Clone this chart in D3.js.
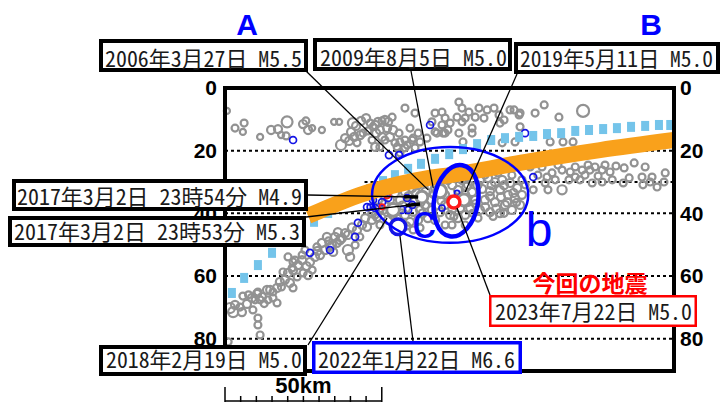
<!DOCTYPE html>
<html><head><meta charset="utf-8">
<script src="https://cdn.jsdelivr.net/npm/d3@7"></script>
<style>html,body{margin:0;padding:0;background:#fff;}svg{display:block;}</style>
</head><body>
<svg id="c" width="724" height="403"></svg>
<script>
// ---------------- DATA ----------------
const depthTicks = [0, 20, 40, 60, 80];
const gridDepths = [20, 40, 60, 80];
const scaleBarKm = 50;
// [distance km, depth km, magnitude]
const grayQuakes = [
 [0.6,7.3,1.4],[3.2,12.8,1.8],[6.1,11.2,1.8],[5.7,14.0,1.4],[11.2,15.6,1.4],[14.7,13.4,2.3],[16.9,13.1,2.3],[17.9,15.0,1.4],[19.8,10.8,3.6],[19.5,15.3,1.8],[24.9,11.5,2.3],[25.8,10.5,1.8],[26.5,13.4,2.3],[27.8,12.8,1.4],[30.9,13.4,1.4],[34.8,10.8,1.4],[36.4,10.8,1.4],[40.8,11.2,3.2],[40.2,14.0,2.3],[41.2,15.6,2.3],[37.0,18.2,3.2],[39.6,16.9,2.3],[42.1,17.5,1.8],[44.0,14.4,1.8],[46.3,11.2,1.8],[48.8,10.8,2.3],[51.0,10.2,2.3],[51.7,12.8,2.3],[50.1,15.6,2.3],[52.6,15.6,2.3],[55.8,17.2,1.8],[57.4,16.6,1.8],[60.0,16.0,1.8],[62.2,17.2,1.8],[67.0,8.0,1.8],[69.2,7.7,1.8],[70.2,9.6,1.8],[59.0,12.8,1.8],[61.6,14.4,1.8],[64.4,16.0,1.8],[67.6,14.4,1.8],[69.5,14.4,1.8],[71.1,13.4,1.8],[49.4,18.8,1.8],[54.9,18.8,1.8],[55.8,20.7,1.8],[58.1,18.2,1.8],[57.4,6.4,1.8],[60.6,8.0,1.8],[53.3,9.3,1.8],[50.1,10.5,1.8],[47.2,12.4,1.8],[48.2,14.4,2.3],[46.9,16.6,1.8],[45.6,13.7,1.8],[74.6,4.5,1.8],[75.6,6.4,1.8],[77.8,7.7,1.8],[81.0,6.4,1.8],[83.6,7.0,1.8],[85.8,6.4,1.8],[87.4,8.6,1.8],[74.0,9.3,1.8],[76.6,9.6,1.8],[79.8,9.3,1.8],[82.6,9.6,1.8],[89.0,10.2,1.8],[92.2,7.0,1.8],[93.8,8.6,1.8],[98.9,8.0,1.8],[101.8,5.4,1.8],[106.5,9.3,1.8],[114.2,7.3,4.1],[66.0,10.8,1.8],[69.2,11.8,1.8],[71.8,11.2,1.8],[67.0,14.0,1.8],[70.2,14.4,1.8],[78.8,12.8,1.8],[74.6,14.4,1.8],[55.5,14.4,1.8],[59.7,16.6,1.8],[54.2,17.5,1.8],[51.0,16.6,1.8],[47.9,18.8,2.3],[57.4,19.1,1.8],[60.6,19.1,1.8],[75.6,10.8,1.8],[75.9,17.2,1.8],[78.8,14.4,1.8],[87.7,11.2,1.8],[90.9,7.0,1.8],[94.1,8.0,1.8],[94.1,12.4,1.8],[103.7,17.2,1.8],[107.8,17.2,1.8],[111.0,17.2,1.8],[88.4,17.5,1.8],[92.5,17.2,1.8],[41.8,12.1,2.3],[43.1,15.0,2.3],[38.3,16.0,2.3],[43.4,10.5,2.3],[45.0,9.6,2.3],[47.9,11.8,2.3],[52.0,10.8,2.3],[53.6,13.4,2.3],[49.4,13.4,2.3],
 // deeper cluster east
 [101.1,25.2,1.8],[104.3,27.1,1.8],[107.5,26.2,1.8],[109.7,29.3,1.8],[111.7,25.2,1.8],[113.9,26.2,1.8],[118.0,25.2,1.8],[120.3,26.2,1.8],[127.3,25.5,1.8],[130.5,23.9,1.8],[134.0,25.2,1.8],[136.2,28.4,1.8],[140.4,27.1,1.8],[140.0,30.0,1.8],[133.0,28.4,1.8],[128.9,28.7,1.8],[123.5,29.3,1.8],[120.3,30.0,1.8],[117.1,30.3,1.8],[127.0,30.3,1.8],[135.6,30.0,1.8],[133.3,30.9,1.8],[137.8,31.6,1.8],[102.7,28.4,1.8],[97.3,25.2,1.8],[98.3,32.5,1.8],[103.0,32.5,1.8],[107.5,32.5,2.8],[105.3,29.3,1.8],[111.7,28.4,1.8],[114.8,27.8,1.8],[116.4,26.2,1.8],[122.8,26.8,1.8],[124.7,24.9,1.8],[99.8,27.8,1.8],[102.1,30.3,1.8],[106.2,24.6,1.8],[110.1,26.8,1.8],[113.2,29.3,1.8],[119.0,28.1,1.8],[115.8,24.6,1.8],[121.2,24.6,1.8],
 // slab
 [1.6,70.2,3.2],[3.2,69.2,2.3],[4.8,69.9,1.8],[7.0,68.9,2.3],[8.6,67.0,2.3],[10.2,65.7,2.3],[9.6,67.6,1.8],[11.2,67.6,1.8],[10.5,65.1,1.8],[11.8,66.7,2.3],[13.4,64.4,2.3],[13.7,67.6,1.8],[15.3,65.1,1.8],[16.6,63.8,2.3],[16.6,68.6,1.8],[15.3,67.0,1.8],[17.5,61.9,2.3],[19.1,61.2,2.3],[20.7,62.2,2.3],[18.5,58.7,1.8],[20.1,59.0,2.3],[21.7,58.1,2.3],[21.4,57.4,1.8],[23.3,56.5,2.3],[24.6,54.9,2.3],[21.7,55.5,1.8],[24.9,59.0,1.8],[26.5,59.7,2.3],[23.0,60.3,1.8],[21.7,63.8,1.8],[20.1,53.9,1.8],[22.3,54.9,1.8],[24.6,53.3,1.8],[27.8,58.1,1.8],[28.7,53.9,2.3],[30.3,53.3,2.3],[29.3,50.7,1.8],[30.9,49.4,2.3],[31.9,51.7,2.3],[33.5,50.7,2.3],[34.1,50.1,2.3],[34.5,52.3,2.3],[35.1,47.5,2.3],[35.7,49.4,2.3],[36.7,48.5,2.3],[37.3,47.9,2.3],[38.3,46.3,2.3],[39.2,46.9,2.3],[39.2,51.7,3.2],[39.9,53.9,2.3],[42.1,45.3,2.3],[43.7,43.7,2.3],[45.3,44.3,2.3],[44.7,41.5,2.3],[46.9,42.1,2.3],[48.5,41.2,2.3],[49.4,38.3,2.3],[51.7,39.6,2.3],[53.6,38.0,2.3],[10.5,73.4,1.8],[10.5,75.6,1.8],[11.2,78.8,1.8],[1.0,81.0,1.8],[2.6,71.5,3.2],[14.4,64.4,2.3],[32.5,47.5,2.3],[41.5,50.1,1.8],[27.1,55.5,2.3],[25.5,51.7,1.8],[5.7,66.4,1.8],[8.9,70.8,1.8],[5.4,71.5,2.3],
 [18.0,63.5,1.8],[26.0,56.8,2.3],[29.5,52.0,2.3],[33.0,48.8,1.8],[36.0,46.0,2.3],[40.5,44.5,2.3],[43.0,47.5,1.8],[47.0,40.0,2.3],[12.5,68.8,1.8],[7.5,66.0,1.8],
 // central cluster
 [48.8,35.7,2.3],[50.4,38.9,2.3],[52.6,35.7,2.3],[54.2,33.5,2.3],[55.8,35.7,2.3],[57.4,33.2,2.3],[59.7,31.9,2.3],[61.6,30.9,2.3],[63.8,30.3,2.3],[60.6,35.7,2.3],[62.2,38.9,2.3],[63.8,37.3,2.3],[65.4,35.7,2.3],[66.0,38.9,2.3],[64.7,41.5,2.3],[61.6,42.1,2.3],[59.0,42.7,2.3],[57.4,40.5,2.3],[52.0,42.1,2.3],[49.4,43.7,1.8],[47.9,40.5,1.8],[60.0,45.3,1.8],[62.2,44.6,1.8],[67.0,42.1,2.3],[68.6,39.6,2.3],[70.2,37.3,2.3],[70.2,34.1,2.3],[68.6,30.0,2.3],[71.1,29.3,2.3],[73.4,28.7,2.3],[75.6,29.3,2.3],[77.5,30.9,2.3],[78.8,33.2,2.3],[79.8,35.7,2.3],[78.2,38.3,2.3],[76.6,40.5,2.3],[74.3,41.5,2.3],[71.8,40.5,2.3],[70.2,43.7,1.8],[81.3,29.3,2.3],[83.9,28.7,2.3],[86.1,30.0,2.3],[88.4,29.3,2.3],[90.9,30.3,2.3],[93.2,31.9,2.3],[82.0,32.2,2.3],[84.5,32.9,2.3],[87.7,32.5,2.3],[90.3,34.1,2.3],[92.5,35.1,2.3],[94.1,37.3,2.3],[82.9,35.7,2.3],[86.1,36.4,2.3],[89.3,37.3,2.3],[91.5,38.9,2.3],[81.3,38.9,2.3],[84.5,39.6,2.3],[87.7,39.9,2.3],[80.7,41.5,1.8],[82.9,27.8,1.8],[87.0,27.1,1.8],[91.5,27.8,1.8],[94.7,29.3,1.8],[94.7,34.1,2.3],[95.7,30.9,1.8],[67.0,31.9,2.3],[74.3,32.5,2.3],[76.6,34.1,2.3],[71.8,35.7,2.3],[75.0,38.3,2.3],[72.4,43.7,1.8],[76.6,43.7,1.8],
 [51,37,2.3],[53.5,40.5,2.3],[56.5,37.5,2.3],[58.5,34.5,2.3],[61,33.5,2.3],[62.5,36.5,1.8],[64,33,2.3],[66.5,34,1.8],[60,39.5,2.3],[63,40,2.3],[58,44,1.8],[55,41.5,1.8],[69,36,2.3],[72.5,31,2.3],[72.5,38.5,2.3],[77,31.5,2.3],[80.5,31,2.3],[80,37,2.3],[77.5,36.5,1.8],[73,41,1.8],[85,31,2.3],[89,31,2.3],[92,33.5,2.3],[88,34.8,2.3],[84.5,34.5,2.3],[83,38,2.3],[86.5,38.5,2.3],[90,36.5,2.3],[93,36.5,1.8],[89,40,1.8],[79,40,1.8],[85.5,41,1.8]
];
const blueQuakes = [
 [21.7,16.6,1.8],[65.4,11.8,1.8],[52.3,21.4,1.8],[55.5,21.4,1.8],[95.7,14.4,1.8],[98.3,28.4,1.8],[27.1,52.6,1.8],[41.5,47.5,1.8],[45.3,38.0,1.8],[47.9,38.3,1.8],[47.2,35.7,1.8],[51.0,33.5,1.8],[52.0,35.1,1.8],[50.1,36.4,1.8],[58.1,35.1,1.8],[59.7,37.3,1.8],[58.4,38.9,1.8],[56.5,38.9,1.8],[46.3,38.0,1.4],[71.8,28.7,1.4],[74.0,33.5,1.0],[69.2,38.3,1.4],[33.5,51.7,1.8],[42.4,43.0,1.8]
];
const redQuakes = [[51.7,34.1,1.8],[50.1,37.9,1.0]];
// major events: [km, depth, M, kind]
const majorQuakes = [
 [53.6,38.9,5.3,"gray"],[62.8,34.8,4.9,"gray"],[68.6,32.9,5.5,"gray"],[76.2,35.7,5.0,"gray"],
 [55.2,44.3,6.6,"blue"],[73.0,36.4,5.0,"red"]
];
// plate boundary model (orange) and blue dashed model: [km, depth]
const orangeLine = [[26.5,40.8],[30.3,39.2],[43.1,34.1],[55.8,30.6],[65.1,28.7],[71.8,27.8],[97.3,23.3],[119.6,19.8],[143.2,16.6]];
const blueLine = [[2.2,65.4],[6.1,60.6],[10.5,56.5],[15.0,52.6],[19.5,49.1],[23.9,45.6],[28.4,42.7],[32.9,39.9],[37.3,37.0],[41.8,34.5],[46.3,32.2],[50.4,29.7],[54.2,27.8],[58.4,25.8],[62.5,24.2],[67.0,22.6],[71.5,21.1],[75.9,19.5],[80.4,17.9],[84.9,16.6],[89.3,16.0],[93.8,15.6],[98.3,15.3],[102.7,14.7],[107.2,14.4],[111.7,13.7],[116.1,13.4],[120.6,13.1],[125.0,12.8],[129.5,12.4],[134.0,12.1],[138.4,11.8],[142.0,11.8]];
// labels and the event each one points to [km, depth]
const labelTexts = ["2006年3月27日 M5.5","2009年8月5日 M5.0","2019年5月11日 M5.0","2017年3月2日 23時54分 M4.9","2017年3月2日 23時53分 M5.3","2018年2月19日 M5.0","2022年1月22日 M6.6","2023年7月22日 M5.0"];
const labelTargets = [[64.8,32.5],[66.4,31.9],[76.6,33.2],[61.6,34.8],[62.2,37.0],[51.7,41.5],[55.8,47.2],[74.0,38.3]];
const labelColors = ["black","black","black","black","black","black","blue","red"];

// ---------------- LAYOUT ----------------
const L = {
 box: [[99,39,308,72],[313,38,512,71],[514,42,720,74],[12,179,308,211],[8,216,306,247],[99,345,307,376],[312,341,522,374],[489,295,697,327]],
 text: [[105,302,66.5],[320,507,66],[520,713,67],[17,302,205],[14,300,240],[106,302,368],[318,515,368],[495,692,320]],
 from: [[306,71],[411,71],[517,74],[308,195],[306,217],[308,345],[413,341],[490,295]],
 thickTail: [0,0,0,14,14,0,0,0],
 sw: {black:4, blue:3.5, red:2.5}
};
const colors = {gray:"#929292", blue:"#1414e6", red:"#ff1a1a", orange:"#f9a11b", sky:"#74c4ea"};

const svg = d3.select("#c");
const x = d3.scaleLinear().domain([0,143.2]).range([225,674]);
const y = d3.scaleLinear().domain([0,90.3]).range([88,371]);
const r = m => 1.5 + 1.1*m;

// grid
svg.append("g").selectAll("line").data(gridDepths).join("line")
 .attr("x1",x(0)).attr("x2",x(143.2)).attr("y1",d=>y(d)).attr("y2",d=>y(d))
 .attr("stroke","#000").attr("stroke-width",2).attr("stroke-dasharray","3,3");
svg.append("line").attr("x1",x(44.5)).attr("x2",x(143.2)).attr("y1",y(30)).attr("y2",y(30))
 .attr("stroke","#000").attr("stroke-width",2).attr("stroke-dasharray","3,3");

// quakes
svg.append("g").selectAll("circle").data(grayQuakes).join("circle")
 .attr("cx",d=>x(d[0])).attr("cy",d=>y(d[1])).attr("r",d=>r(d[2]))
 .attr("fill","none").attr("stroke",colors.gray).attr("stroke-width",2.2);
svg.append("g").selectAll("circle").data(blueQuakes).join("circle")
 .attr("cx",d=>x(d[0])).attr("cy",d=>y(d[1])).attr("r",d=>r(d[2]))
 .attr("fill","none").attr("stroke",colors.blue).attr("stroke-width",1.7);
svg.append("g").selectAll("circle").data(redQuakes).join("circle")
 .attr("cx",d=>x(d[0])).attr("cy",d=>y(d[1])).attr("r",d=>r(d[2]))
 .attr("fill","none").attr("stroke",colors.red).attr("stroke-width",1.7);

// sky blue dashed model
svg.append("g").selectAll("rect").data(blueLine).join("rect")
 .attr("x",d=>x(d[0])-4).attr("y",d=>y(d[1])-5).attr("width",8).attr("height",10)
 .attr("fill",colors.sky);
// orange band
svg.append("path").datum(orangeLine)
 .attr("d",d3.line().x(d=>x(d[0])).y(d=>y(d[1])).curve(d3.curveMonotoneX))
 .attr("fill","none").attr("stroke",colors.orange).attr("stroke-width",16);

// major events
svg.append("g").selectAll("circle").data(majorQuakes).join("circle")
 .attr("cx",d=>x(d[0])).attr("cy",d=>y(d[1])).attr("r",d=>r(d[2])-1)
 .attr("fill","#fff").attr("stroke",d=>colors[d[3]]).attr("stroke-width",d=>d[3]==="gray"?3:3.5);

// ellipses
svg.append("ellipse").attr("cx",x(71.8)).attr("cy",y(34.1)).attr("rx",x(24.9)-x(0)).attr("ry",y(15.3)-y(0))
 .attr("fill","none").attr("stroke","#0000ff").attr("stroke-width",2.5);
svg.append("ellipse").attr("cx",x(73.7)).attr("cy",y(36.0)).attr("rx",x(7.0)-x(0)).attr("ry",y(11.5)-y(0))
 .attr("transform",`rotate(10,${x(73.7)},${y(36.0)})`)
 .attr("fill","none").attr("stroke","#0000ff").attr("stroke-width",4.5);

// leader lines
svg.append("g").selectAll("line").data(labelTargets).join("line")
 .attr("x1",(d,i)=>L.from[i][0]).attr("y1",(d,i)=>L.from[i][1])
 .attr("x2",d=>x(d[0])).attr("y2",d=>y(d[1]))
 .attr("stroke","#000").attr("stroke-width",1.3);
labelTargets.forEach((d,i)=>{
 const t=L.thickTail[i]; if(!t) return;
 const x2=x(d[0]), y2=y(d[1]), x1=L.from[i][0], y1=L.from[i][1];
 const len=Math.hypot(x2-x1,y2-y1);
 svg.append("line").attr("x1",x2-(x2-x1)*t/len).attr("y1",y2-(y2-y1)*t/len).attr("x2",x2).attr("y2",y2)
  .attr("stroke","#000").attr("stroke-width",3.5);
});

// frame
svg.append("rect").attr("x",x(0)).attr("y",y(0)).attr("width",x(143.2)-x(0)).attr("height",y(90.3)-y(0))
 .attr("fill","none").attr("stroke","#000").attr("stroke-width",4);

// depth axes
const axFont = "'Liberation Sans',Arial,sans-serif";
const la = svg.append("g").attr("transform",`translate(${x(0)},0)`)
 .call(d3.axisLeft(y).tickValues(depthTicks).tickSize(0).tickPadding(8));
const ra = svg.append("g").attr("transform",`translate(${x(143.2)},0)`)
 .call(d3.axisRight(y).tickValues(depthTicks).tickSize(0).tickPadding(6));
[la,ra].forEach(g=>{g.select(".domain").remove();
 g.selectAll("text").attr("font-family",axFont).attr("font-weight","bold").attr("font-size",21).attr("fill","#000");});

// scale bar
const sb = svg.append("g");
sb.append("line").attr("x1",x(0)).attr("x2",x(scaleBarKm)).attr("y1",401).attr("y2",401).attr("stroke","#000").attr("stroke-width",1.5);
sb.selectAll(".t").data(d3.range(0,scaleBarKm+1,5)).join("line")
 .attr("x1",d=>x(d)).attr("x2",d=>x(d)).attr("y1",d=>(d===0||d===scaleBarKm)?387:396).attr("y2",402)
 .attr("stroke","#000").attr("stroke-width",1.5);
sb.append("text").attr("x",(x(0)+x(scaleBarKm))/2).attr("y",393).attr("text-anchor","middle")
 .attr("font-family",axFont).attr("font-weight","bold").attr("font-size",22).text(scaleBarKm+"km");

// labels
const lf = "'Noto Sans Mono CJK JP','Noto Sans CJK JP',sans-serif";
labelTexts.forEach((t,i)=>{
 const b=L.box[i], sw=L.sw[labelColors[i]], tx=L.text[i];
 svg.append("rect").attr("x",b[0]+sw/2).attr("y",b[1]+sw/2).attr("width",b[2]-b[0]-sw).attr("height",b[3]-b[1]-sw)
  .attr("fill","#fff").attr("stroke",labelColors[i]==="black"?"#000":(labelColors[i]==="blue"?"#0000ff":"#ff0000")).attr("stroke-width",sw);
 svg.append("text").attr("x",tx[0]).attr("y",tx[2]).attr("textLength",tx[1]-tx[0]).attr("lengthAdjust","spacingAndGlyphs")
  .attr("font-family",lf).attr("font-size",22).attr("fill","#1a1a1a").text(t);
});

// annotations
const ann = [["A",247,35,30,"bold"],["B",651,35,30,"bold"]];
ann.forEach(a=>svg.append("text").attr("x",a[1]).attr("y",a[2]).attr("text-anchor","middle")
 .attr("font-family",axFont).attr("font-weight",a[4]).attr("font-size",a[3]).attr("fill","#0000ff").text(a[0]));
svg.append("text").attr("x",424).attr("y",238).attr("text-anchor","middle").attr("font-family",axFont)
 .attr("font-size",48).attr("fill","#0000ff").text("c");
svg.append("text").attr("x",539).attr("y",246).attr("text-anchor","middle").attr("font-family",axFont)
 .attr("font-size",48).attr("fill","#0000ff").text("b");
svg.append("text").attr("x",590).attr("y",292).attr("text-anchor","middle").attr("font-family","'Noto Sans CJK JP',sans-serif")
 .attr("font-weight","bold").attr("font-size",23).attr("fill","#ff0000").text("今回の地震");
</script>
</body></html>
